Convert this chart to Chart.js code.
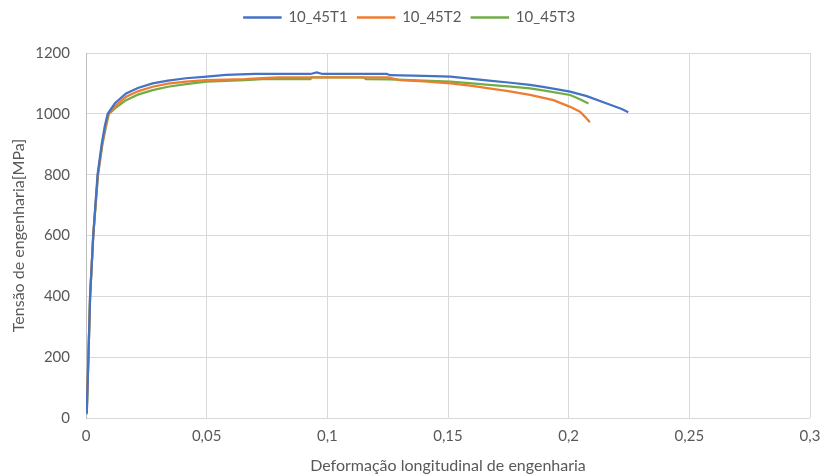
<!DOCTYPE html>
<html>
<head>
<meta charset="utf-8">
<script src="https://cdn.jsdelivr.net/npm/chart.js@4.4.0/dist/chart.umd.min.js"></script>
<style>
  html, body { margin: 0; padding: 0; background: #fff; }
  #wrap { width: 825px; height: 476px; }
</style>
</head>
<body>
<div id="wrap"><canvas id="Curva"></canvas></div>
<script>
// deformação (strain) and tensão (MPa)
var t1x = [0.0003,0.001,0.0017,0.003,0.0048,0.0065,0.0078,0.009,0.012,0.0166,0.0215,0.0276,0.034,0.0414,0.05,0.058,0.07,0.093,0.0956,0.098,0.1246,0.126,0.14,0.151,0.16,0.167,0.175,0.184,0.19,0.2006,0.2075,0.2158,0.222,0.2247];
var t1y = [15,200,400,600,800,900,960,1000,1035,1067,1085,1100,1109,1117,1122,1128,1131,1131,1136,1131,1131,1127,1125,1122,1115,1109,1103,1095,1088,1073,1058,1034,1016,1005];

var t2x = [0.0003,0.001,0.0017,0.003,0.0049,0.0067,0.008,0.0093,0.012,0.0166,0.0215,0.0276,0.034,0.0414,0.05,0.066,0.073,0.08,0.125,0.13,0.14,0.151,0.16,0.167,0.175,0.184,0.1937,0.2006,0.2047,0.2068,0.2088];
var t2y = [18,200,400,600,800,900,955,1000,1025,1056,1074,1089,1099,1106,1111,1114,1117,1120,1120,1111,1107,1100,1092,1084,1075,1062,1045,1023,1007,990,972];

var t3x = [0.0003,0.001,0.0017,0.003,0.005,0.0068,0.0082,0.0095,0.012,0.0166,0.0215,0.0276,0.034,0.0414,0.05,0.066,0.073,0.093,0.0935,0.115,0.116,0.126,0.14,0.151,0.16,0.167,0.175,0.184,0.19,0.2006,0.2047,0.2082];
var t3y = [12,200,400,600,800,900,955,1000,1018,1045,1063,1078,1089,1098,1106,1111,1114,1114,1120,1120,1114,1113,1109,1106,1100,1095,1090,1084,1076,1062,1048,1034];

function pares(xs, ys){
  var out = [];
  for (let i = 0; i < xs.length; ++i) {
    out.push({x: xs[i], y: ys[i]});
  }
  return out;
}

function virgula(v){
  return String(Number(v.toFixed(2))).replace('.', ',');
}

Chart.defaults.font.family = "Lato, sans-serif";
Chart.defaults.color = '#595959';

function serie(nome, xs, ys, cor){
  return {
    label: nome,
    data: pares(xs, ys),
    borderColor: cor,
    backgroundColor: cor,
    borderWidth: 2.25,
    pointRadius: 0,
    showLine: true
  };
}

const data = {
  datasets: [
    serie('10_45T1', t1x, t1y, '#4472C4'),
    serie('10_45T2', t2x, t2y, '#ED7D31'),
    serie('10_45T3', t3x, t3y, '#70AD47')
  ]
};

// more space below the legend
const espacoLegenda = {
  id: 'espacoLegenda',
  beforeInit(chart){
    const fit = chart.legend.fit;
    chart.legend.fit = function(){
      fit.bind(chart.legend)();
      this.height += 18;
    };
  }
};

const option = {
  responsive: true,
  maintainAspectRatio: false,
  animation: false,
  layout: { padding: { left: 9, right: 15, top: 0, bottom: 1 } },
  plugins: {
    legend: {
      position: 'top',
      labels: {
        boxWidth: 37,
        boxHeight: 1,
        padding: 10,
        font: { size: 15 },
        color: '#595959',
        generateLabels: function(chart){
          var items = Chart.defaults.plugins.legend.labels.generateLabels(chart);
          items.forEach(function(it){ it.lineWidth = 1.5; });
          return items;
        }
      }
    },
    tooltip: { enabled: false }
  },
  scales: {
    x: {
      type: 'linear',
      min: 0,
      max: 0.3,
      afterFit: function(scale){
        scale.height = 57;
        scale.paddingRight = 0;
        scale.paddingLeft = 0;
      },
      ticks: {
        stepSize: 0.05,
        font: { size: 15 },
        padding: 9,
        callback: function(v){ return virgula(v); }
      },
      grid: { color: '#d9d9d9', drawTicks: false },
      border: { display: false },
      title: {
        display: true,
        text: 'Deformação longitudinal de engenharia',
        font: { size: 16 },
        padding: { top: 8, bottom: 0 }
      }
    },
    y: {
      type: 'linear',
      min: 0,
      max: 1200,
      afterFit: function(scale){ scale.width = 77; },
      ticks: {
        stepSize: 200,
        font: { size: 15 },
        padding: 16,
        callback: function(v){ return String(v); }
      },
      grid: { color: '#d9d9d9', drawTicks: false },
      border: { display: true, color: '#bfbfbf' },
      title: {
        display: true,
        text: 'Tensão de engenharia[MPa]',
        font: { size: 16 },
        padding: { top: 0, bottom: 0 }
      }
    }
  }
};

const config = {
  type: 'scatter',
  data: data,
  options: option,
  plugins: [espacoLegenda]
};
const myChart = new Chart(document.getElementById('Curva'), config);
</script>
</body>
</html>
